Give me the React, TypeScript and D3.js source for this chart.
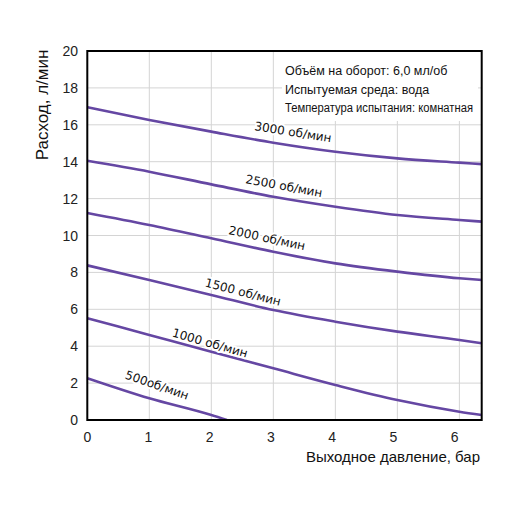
import React from "react";
import * as d3 from "d3";

const pressure = [0, 1, 2, 3, 4, 5, 6, 6.36];
const flow3000 = [16.95, 16.26, 15.63, 15.03, 14.54, 14.18, 13.95, 13.87];
const flow2500 = [14.05, 13.46, 12.77, 12.1, 11.56, 11.11, 10.84, 10.75];
const flow2000 = [11.22, 10.57, 9.85, 9.12, 8.49, 8.04, 7.68, 7.59];
const flow1500 = [8.38, 7.59, 6.78, 5.96, 5.33, 4.79, 4.34, 4.16];
const flow1000 = [5.52, 4.61, 3.7, 2.8, 1.9, 1.08, 0.45, 0.27];
const pressure500 = [0, 1, 2, 2.25];
const flow500 = [2.27, 1.18, 0.27, 0];

const xTicks = [0, 1, 2, 3, 4, 5, 6];
const yTicks = [0, 2, 4, 6, 8, 10, 12, 14, 16, 18, 20];
const seriesLabels = ["3000 об/мин", "2500 об/мин", "2000 об/мин", "1500 об/мин", "1000 об/мин", "500об/мин"];
const notes = ["Объём на оборот: 6,0 мл/об", "Испытуемая среда: вода", "Температура испытания: комнатная"];
const xTitle = "Выходное давление, бар";
const yTitle = "Расход, л/мин";

// label placement (pixel centre + rotation) — styling only
const labelPos = [
  { cx: 293, cy: 132, rot: 9 },
  { cx: 284, cy: 186, rot: 10.5 },
  { cx: 267, cy: 238, rot: 12 },
  { cx: 243, cy: 292, rot: 14.5 },
  { cx: 210, cy: 343, rot: 16 },
  { cx: 157, cy: 385, rot: 19 },
];

const W = 512;
const H = 511;
const L = 87.3, R = 481.7, T = 51, B = 420;
const LINE = "#6547a3";

export default function App() {
  const x = d3.scaleLinear().domain([0, 6.36]).range([L, R]);
  const y = d3.scaleLinear().domain([0, 20]).range([B, T]);
  const line = d3
    .line<[number, number]>()
    .x((d) => x(d[0]))
    .y((d) => y(d[1]))
    .curve(d3.curveMonotoneX);

  const series: [number, number][][] = [
    pressure.map((p, i) => [p, flow3000[i]] as [number, number]),
    pressure.map((p, i) => [p, flow2500[i]] as [number, number]),
    pressure.map((p, i) => [p, flow2000[i]] as [number, number]),
    pressure.map((p, i) => [p, flow1500[i]] as [number, number]),
    pressure.map((p, i) => [p, flow1000[i]] as [number, number]),
    pressure500.map((p, i) => [p, flow500[i]] as [number, number]),
  ];

  return (
    <svg
      width={W}
      height={H}
      style={{ position: "absolute", left: 0, top: 0, background: "#fff" }}
      fontFamily="'Liberation Sans', Arial, sans-serif"
    >
      <defs>
        <clipPath id="plot">
          <rect x={L} y={T} width={R - L} height={B - T} />
        </clipPath>
      </defs>
      <rect x={0} y={0} width={W} height={H} fill="#fff" />
      {/* grid */}
      {yTicks.filter((t) => t > 0 && t < 20).map((t) => (
        <line key={"gy" + t} x1={L} x2={R} y1={y(t)} y2={y(t)} stroke="#d4d4d4" strokeWidth={1} />
      ))}
      {xTicks.filter((t) => t > 0).map((t) => (
        <line key={"gx" + t} x1={x(t)} x2={x(t)} y1={T} y2={B} stroke="#d4d4d4" strokeWidth={1} />
      ))}
      {/* notes box */}
      <rect x={282} y={T} width={196} height={70} fill="#fff" />
      {notes.map((n, i) => (
        <text
          key={n}
          x={285}
          y={75 + i * 18.5}
          fontSize={12.5}
          fill="#111"
          textLength={i === 2 ? 188 : undefined}
          lengthAdjust={i === 2 ? "spacingAndGlyphs" : undefined}
        >
          {n}
        </text>
      ))}
      {/* curves */}
      <g clipPath="url(#plot)">
        {series.map((s, i) => (
          <path key={i} d={line(s) || ""} fill="none" stroke={LINE} strokeWidth={2.6} />
        ))}
      </g>
      {/* curve labels */}
      {seriesLabels.map((lab, i) => (
        <text
          key={lab}
          transform={`translate(${labelPos[i].cx},${labelPos[i].cy}) rotate(${labelPos[i].rot})`}
          textAnchor="middle"
          dy="0.35em"
          fontFamily="'DejaVu Sans', Verdana, sans-serif"
          fontSize={12}
          fill="#111"
          stroke="#fff"
          strokeWidth={4}
          paintOrder="stroke"
          strokeLinejoin="round"
        >
          {lab}
        </text>
      ))}
      {/* frame */}
      <rect x={L} y={T} width={R - L} height={B - T} fill="none" stroke="#000" strokeWidth={2} />
      {/* ticks */}
      {yTicks.map((t) => (
        <text key={"ty" + t} x={78} y={y(t)} dy="0.36em" textAnchor="end" fontSize={14} fill="#222">
          {t}
        </text>
      ))}
      {xTicks.map((t) => (
        <text key={"tx" + t} x={x(t) - t * 0.8} y={442} textAnchor="middle" fontSize={14} fill="#222">
          {t}
        </text>
      ))}
      <text x={480} y={462} textAnchor="end" fontSize={15} fill="#111">
        {xTitle}
      </text>
      <text transform="translate(48,105) rotate(-90)" textAnchor="middle" fontSize={17} fill="#111">
        {yTitle}
      </text>
    </svg>
  );
}
